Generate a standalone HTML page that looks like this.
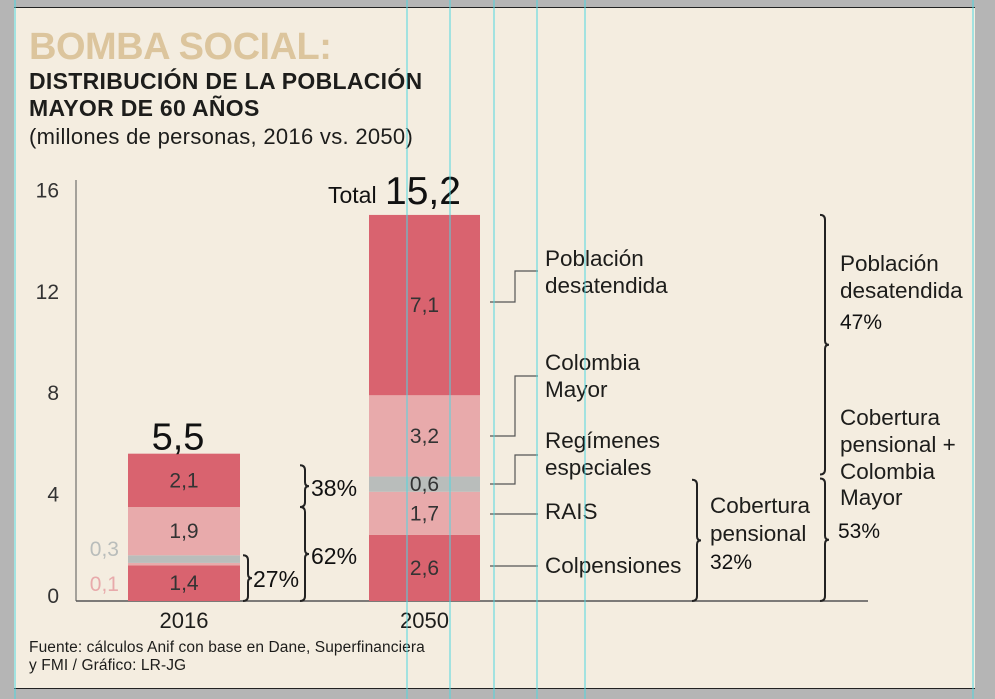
<!DOCTYPE html>
<html><head><meta charset="utf-8"><style>
body{margin:0;width:995px;height:699px;background:#b5b5b5;overflow:hidden;font-family:"Liberation Sans",sans-serif}
#page{position:absolute;left:14px;top:7px;width:961px;height:680px;background:#f4ede0;border-top:1.5px solid #222;border-bottom:1.5px solid #222}
.t{position:absolute;white-space:nowrap;color:#1d1d1b}
</style></head><body>
<div id="page"></div>
<div class="t" style="left:29px;top:26px;font-size:38px;font-weight:bold;color:#dcc59d;letter-spacing:-0.5px">BOMBA SOCIAL:</div>
<div class="t" style="left:29px;top:68px;font-size:23px;font-weight:bold;line-height:27px;letter-spacing:0.3px">DISTRIBUCIÓN DE LA POBLACIÓN<br>MAYOR DE 60 AÑOS</div>
<div class="t" style="left:29px;top:124px;font-size:22px;letter-spacing:0.3px">(millones de personas, 2016 vs. 2050)</div>
<div class="t" style="left:29px;top:639px;font-size:15.5px;line-height:18px;letter-spacing:0.1px">Fuente: cálculos Anif con base en Dane, Superfinanciera<br>y FMI / Gráfico: LR-JG</div>
<svg id="chart" width="995" height="699" style="position:absolute;left:0;top:0"></svg>
<script>
const categories=["2016","2050"];
const totals=[5.5,15.2];
const segNames=["Colpensiones","RAIS","Regímenes especiales","Colombia Mayor","Población desatendida"];
const v2016=[1.4,0.1,0.3,1.9,2.1];
const v2050=[2.6,1.7,0.6,3.2,7.1];
const yTicks=[0,4,8,12,16];
const colors=["#d9636f","#e8aaab","#b9bdbb","#e8aaab","#d9636f"];
const NS="http://www.w3.org/2000/svg";
const svg=document.getElementById('chart');
const y0=601,k=25.4;
function y(v){return y0-v*k;}
const barX=[128,369],barW=[112,111];
function el(tag,at,txt){const e=document.createElementNS(NS,tag);for(const a in at)e.setAttribute(a,at[a]);if(txt!=null)e.textContent=txt;svg.appendChild(e);return e;}
function tx(x,yy,s,size,anchor,fill,name,weight){const e=el('text',{x:x,y:yy,'font-size':size,'text-anchor':anchor||'start',fill:fill||'#1d1d1b','font-family':'Liberation Sans, sans-serif','font-weight':weight||'normal'},s);return e;}
let ax=el('line',{x1:76,y1:180,x2:76,y2:y0,stroke:'#555','stroke-width':1});

ax=el('line',{x1:76,y1:y0,x2:868,y2:y0,stroke:'#555','stroke-width':1.5});

yTicks.forEach(t=>{tx(59,y(t)+2+(t===0?0:t*0.05),String(t),21,'end','#333','y-tick-label');});
const series=[v2016,v2050];
series.forEach((vals,i)=>{
 let c=0;
 vals.forEach((v,j)=>{
  const r=el('rect',{x:barX[i],y:y(c+v),width:barW[i],height:v*k,fill:colors[j]});
  
  
  const mid=y(c+v/2)+7;
  if(v>=0.5)tx(barX[i]+barW[i]/2,mid,String(v).replace('.',','),21,'middle','#333','value-label');
  c+=v;
 });
 tx(barX[i]+barW[i]/2,y0+27,categories[i],22,'middle','#1d1d1b','x-tick-label');
});
tx(119,y(v2016[0]+v2016[1]+v2016[2]/2)-3,String(v2016[2]).replace('.',','),21,'end','#b9bdbb','value-label-small');
tx(119,y(v2016[0]/2)+8,String(v2016[1]).replace('.',','),21,'end','#e8aaab','value-label-small');
tx(178,y(totals[0])-12,String(totals[0]).replace('.',','),38,'middle','#111','total-2016');
tx(328,y(totals[1])-12,'Total',23,'start','#111','total-label');
tx(385,y(totals[1])-11,String(totals[1]).replace('.',','),39,'start','#111','total-2050');
function brace(x,ya,yb,name){const m=(ya+yb)/2;const d=`M${x},${ya} q5,0 5,5 L${x+5},${m-4} q0,4 4,4 q-4,0 -4,4 L${x+5},${yb-5} q0,5 -5,5`;const p=el('path',{d:d,fill:'none',stroke:'#222','stroke-width':2});}
brace(300,y(totals[0])+4,y(v2016[0]+v2016[1]+v2016[2]+v2016[3]),'brace-38');
brace(300,y(v2016[0]+v2016[1]+v2016[2]+v2016[3]),y0,'brace-62');
brace(243,y(v2016[0]+v2016[1]+v2016[2]),y0,'brace-27');
tx(311,496,'38%',23,'start','#111','pct-38');
tx(311,564,'62%',23,'start','#111','pct-62');
tx(253,587,'27%',23,'start','#111','pct-27');
let cum=0;const c50=v2050.map(v=>(cum+=v,cum));
brace(692,y(c50[1])-12,y0,'brace-32');
brace(820,y(totals[1]),y(c50[2])-2,'brace-47');
brace(820,y(c50[2])+2,y0,'brace-53');
function conn(ya,yb,name){const p=el('path',{d:`M490,${ya} H515 V${yb} H538`,fill:'none',stroke:'#555','stroke-width':1.2});}
conn(302,271,'connector-desatendida');conn(436,376,'connector-colombia-mayor');conn(484,455,'connector-regimenes');conn(514,514,'connector-rais');conn(566,566,'connector-colpensiones');
const L=[["Población",266],["desatendida",293],["Colombia",370],["Mayor",397],["Regímenes",448],["especiales",475],["RAIS",519],["Colpensiones",573]];
L.forEach(l=>tx(545,l[1],l[0],22.5,'start','#1d1d1b','segment-label'));
[["Cobertura",513],["pensional",541]].forEach(l=>tx(710,l[1],l[0],22.5,'start','#1d1d1b','group-label'));
tx(710,569,'32%',21,'start','#111','pct-32');
[["Población",271],["desatendida",298]].forEach(l=>tx(840,l[1],l[0],22.5,'start','#1d1d1b','group-label'));
tx(840,329,'47%',21,'start','#111','pct-47');
[["Cobertura",425],["pensional +",452],["Colombia",479],["Mayor",505]].forEach(l=>tx(840,l[1],l[0],22.5,'start','#1d1d1b','group-label'));
tx(838,538,'53%',21,'start','#111','pct-53');
[15,407,450,494,537,585,973].forEach(x=>{const g=el('line',{x1:x,y1:0,x2:x,y2:699,stroke:'#4fd6e0','stroke-width':1});});
</script>
</body></html>
